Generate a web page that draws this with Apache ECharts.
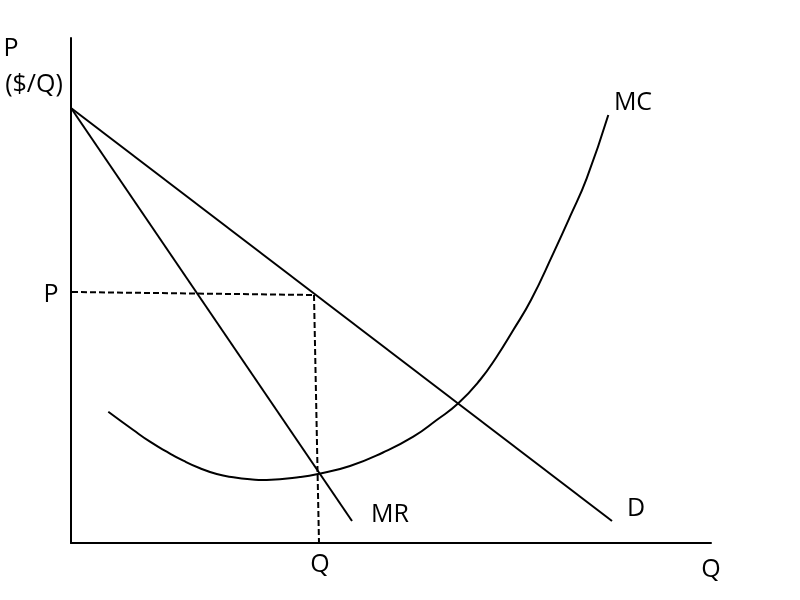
<!DOCTYPE html>
<html>
<head>
<meta charset="utf-8">
<script src="https://cdn.jsdelivr.net/npm/echarts@6/dist/echarts.min.js"></script>
<style>html,body{margin:0;padding:0;background:#fff}#c{width:800px;height:600px}</style>
</head>
<body>
<div id="c"></div>
<script>
// Values (arbitrary quantity / price units)
var demandQ = [0, 541];
var demandP = [435, 22];
var mrQ = [0, 281];
var mrP = [435, 22];
var mcQ = [37.3, 62.3, 79, 95.7, 112.3, 129, 145.7, 162.3, 179, 195.7, 229, 247, 279, 312, 342.3, 365.7, 387.3, 409, 425.7, 442.3, 460, 482.3, 499, 515.7, 537.3];
var mcP = [131.3, 113, 101.3, 91.3, 82.3, 74.7, 69, 65.7, 63.7, 63, 66, 69, 77, 90.5, 106.3, 123, 139.7, 163, 186.3, 213, 243, 289.7, 326.3, 364.7, 428];
var priceLineQ = [1, 243];
var priceLineP = [251, 248];
var qtyLineQ = [243, 248];
var qtyLineP = [248, 0];
var xMax = 640, yMax = 505;

function pairs(xs, ys){ return xs.map(function(x,i){ return [x, ys[i]]; }); }

var chart = echarts.init(document.getElementById('c'), null, {renderer:'canvas'});
var font = '"Open Sans", sans-serif';
var txt = function(x, y, s){
  return {type:'text', x:x, y:y, style:{text:s, fill:'#000', font:'25px ' + font, textAlign:'center', textVerticalAlign:'middle'}};
};
var lineStyle = {color:'#000', width:2};
var mcData = pairs(mcQ, mcP);
chart.setOption({
  animation:false,
  backgroundColor:'#fff',
  grid:{left:71, right:89, top:38, bottom:57},
  xAxis:{type:'value', min:0, max:xMax, axisLine:{show:true, onZero:false, lineStyle:{color:'#000', width:2}}, axisTick:{show:false}, axisLabel:{show:false}, splitLine:{show:false}},
  yAxis:{type:'value', min:0, max:yMax, axisLine:{show:true, onZero:false, lineStyle:{color:'#000', width:2}}, axisTick:{show:false}, axisLabel:{show:false}, splitLine:{show:false}},
  series:[
    {type:'line', data:pairs(demandQ, demandP), showSymbol:false, lineStyle:lineStyle},
    {type:'line', data:pairs(mrQ, mrP), showSymbol:false, lineStyle:lineStyle},
    {type:'custom', data:mcData, renderItem:function(params, api){
      if (params.dataIndex !== 0) return null;
      var pts = mcData.map(function(d){ return api.coord(d); });
      return {type:'polyline', shape:{points:pts, smooth:0.5}, style:{stroke:'#000', lineWidth:2, fill:null}};
    }},
    {type:'line', data:pairs(priceLineQ, priceLineP), showSymbol:false, lineStyle:{color:'#000', width:2, type:[6,3]}},
    {type:'line', data:pairs(qtyLineQ, qtyLineP), showSymbol:false, lineStyle:{color:'#000', width:2, type:[6,3]}}
  ],
  graphic:[
    txt(11, 49, 'P'),
    txt(34, 85, '($/Q)'),
    txt(51, 295, 'P'),
    txt(633, 103, 'MC'),
    txt(390, 515, 'MR'),
    txt(636, 509, 'D'),
    txt(320, 565, 'Q'),
    txt(711, 570, 'Q')
  ]
});
</script>
</body>
</html>
